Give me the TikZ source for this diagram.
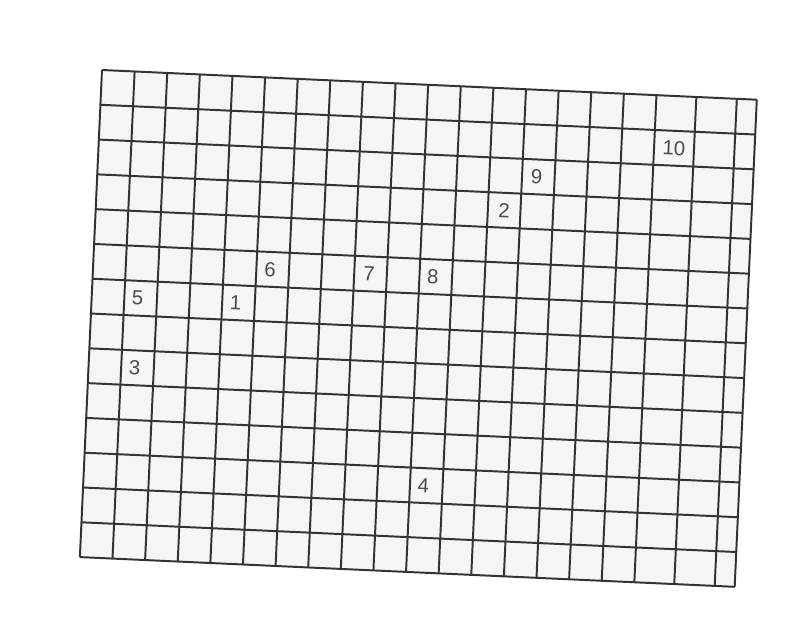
\documentclass[tikz,border=0pt]{standalone}
\usepackage{fontspec}
\setmainfont{Liberation Sans}
\begin{document}
\begin{tikzpicture}[x=0.025cm,y=0.025cm,
  gridline/.style={line width=1.4pt,draw=black!80},
  cellnum/.style={text=black!70,font=\fontsize{14.5}{17}\selectfont,inner sep=0pt,rotate=-2.6}]
\useasboundingbox (0,0) rectangle (795,618);
\begin{scope}[shift={(102,548)},rotate=-2.6]
  \fill[black!4] (0,0) rectangle (655.5,-487.6);
  % vertical lines
  \foreach \k in {0,...,17}
    \draw[gridline] (32.65*\k,0) -- (32.65*\k,-487.6);
  \foreach \xx in {595,635.5,655.5}
    \draw[gridline] (\xx,0) -- (\xx,-487.6);
  % horizontal lines
  \foreach \r in {0,...,14}
    \draw[gridline] (0,-34.83*\r) -- (655.5,-34.83*\r);
  % numbered cells
  \node[cellnum] (n1) at (144,-226.4) {1};
  \node[cellnum] (n2) at (408.1,-121.9) {2};
  \node[cellnum] (n3) at (46,-296) {3};
  \node[cellnum] (n4) at (340,-400.5) {4};
  \node[cellnum] (n5) at (46,-226.4) {5};
  \node[cellnum] (n6) at (177,-191.6) {6};
  \node[cellnum] (n7) at (276,-191.6) {7};
  \node[cellnum] (n8) at (340,-191.6) {8};
  \node[cellnum] (n9) at (439,-87.1) {9};
  \node[cellnum] (n10) at (575,-52.2) {10};
\end{scope}
\end{tikzpicture}
\end{document}
